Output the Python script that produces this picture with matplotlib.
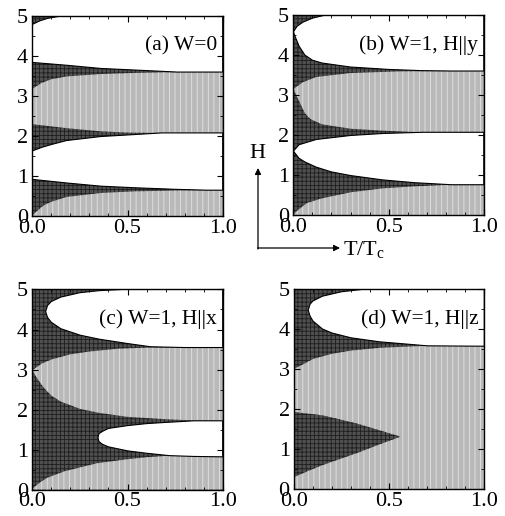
import matplotlib
matplotlib.use("Agg")
import matplotlib.pyplot as plt
from matplotlib.ticker import MultipleLocator

plt.rcParams['font.family'] = ['Liberation Serif', 'DejaVu Serif']
plt.rcParams['hatch.linewidth'] = 0.6

# phase boundaries: (T/Tc, H) pairs
# (a) W=0
A_W1_HI_T = [0, 0.04, 0.08, 0.15, 1.0]
A_W1_HI_H = [4.79, 4.88, 4.94, 5.0, 5.0]
A_W1_LO_T = [0, 0.18, 0.36, 0.54, 0.76, 1.0]
A_W1_LO_H = [3.84, 3.77, 3.69, 3.65, 3.6, 3.6]
A_L1_HI_T = [0, 0.05, 0.1, 0.18, 0.36, 0.55, 0.76, 1.0]
A_L1_HI_H = [3.18, 3.33, 3.42, 3.49, 3.55, 3.58, 3.6, 3.6]
A_L1_LO_T = [0, 0.18, 0.36, 0.5, 0.68, 1.0]
A_L1_LO_H = [2.3, 2.2, 2.12, 2.09, 2.08, 2.08]
A_W2_HI_T = [0, 0.05, 0.1, 0.18, 0.36, 0.54, 0.68, 1.0]
A_W2_HI_H = [1.63, 1.72, 1.79, 1.89, 1.99, 2.04, 2.08, 2.08]
A_W2_LO_T = [0, 0.18, 0.36, 0.54, 0.76, 0.92, 1.0]
A_W2_LO_H = [0.92, 0.83, 0.75, 0.71, 0.67, 0.65, 0.65]
A_L2_HI_T = [0, 0.03, 0.06, 0.1, 0.18, 0.36, 0.54, 0.76, 0.92, 1.0]
A_L2_HI_H = [0.02, 0.15, 0.27, 0.36, 0.48, 0.58, 0.62, 0.64, 0.65, 0.65]

# (b) W=1, H||y
B_W1_HI_T = [0, 0.02, 0.05, 0.1, 0.17, 1.0]
B_W1_HI_H = [4.58, 4.72, 4.82, 4.92, 5.0, 5.0]
B_W1_LO_T = [0, 0.01, 0.03, 0.06, 0.1, 0.15, 0.3, 0.5, 0.67, 0.83, 1.0]
B_W1_LO_H = [4.58, 4.45, 4.22, 4.0, 3.87, 3.8, 3.7, 3.64, 3.61, 3.6, 3.6]
B_L1_HI_T = [0, 0.05, 0.12, 0.3, 0.56, 0.83, 1.0]
B_L1_HI_H = [3.15, 3.32, 3.45, 3.55, 3.59, 3.6, 3.6]
B_L1_LO_T = [0, 0.02, 0.04, 0.06, 0.09, 0.15, 0.3, 0.47, 0.68, 1.0]
B_L1_LO_H = [3.15, 2.95, 2.75, 2.55, 2.4, 2.27, 2.16, 2.11, 2.07, 2.07]
B_W2_HI_T = [0, 0.03, 0.12, 0.3, 0.47, 0.68, 1.0]
B_W2_HI_H = [1.6, 1.76, 1.89, 1.99, 2.04, 2.07, 2.07]
B_W2_LO_T = [0, 0.03, 0.06, 0.12, 0.2, 0.3, 0.47, 0.64, 0.83, 1.0]
B_W2_LO_H = [1.6, 1.42, 1.33, 1.2, 1.08, 0.99, 0.88, 0.81, 0.76, 0.76]
B_L2_HI_T = [0, 0.03, 0.07, 0.15, 0.3, 0.47, 0.64, 0.83, 1.0]
B_L2_HI_H = [0.02, 0.15, 0.3, 0.42, 0.57, 0.67, 0.72, 0.76, 0.76]

# (c) W=1, H||x
C_W1_HI_T = [0.07, 0.08, 0.1, 0.15, 0.25, 0.35, 0.47, 1.0]
C_W1_HI_H = [4.45, 4.6, 4.7, 4.81, 4.92, 4.97, 5.0, 5.0]
C_W1_LO_T = [0.07, 0.08, 0.1, 0.15, 0.25, 0.35, 0.5, 0.62, 0.8, 1.0]
C_W1_LO_H = [4.45, 4.3, 4.18, 4.02, 3.86, 3.76, 3.65, 3.57, 3.55, 3.55]
C_L1_HI_T = [0, 0.05, 0.1, 0.2, 0.3, 0.45, 0.62, 1.0]
C_L1_HI_H = [2.98, 3.15, 3.25, 3.38, 3.45, 3.52, 3.55, 3.55]
C_L1_LO_T = [0, 0.03, 0.06, 0.1, 0.15, 0.25, 0.35, 0.5, 0.7, 0.85, 1.0]
C_L1_LO_H = [2.98, 2.75, 2.55, 2.35, 2.2, 2.02, 1.92, 1.82, 1.76, 1.73, 1.72]
C_W2_HI_T = [0.345, 0.35, 0.37, 0.4, 0.5, 0.6, 0.7, 0.85, 1.0]
C_W2_HI_H = [1.3, 1.4, 1.46, 1.53, 1.6, 1.65, 1.68, 1.72, 1.72]
C_W2_LO_T = [0.345, 0.35, 0.37, 0.4, 0.5, 0.6, 0.72, 0.85, 1.0]
C_W2_LO_H = [1.3, 1.2, 1.13, 1.07, 0.97, 0.91, 0.85, 0.83, 0.82]
C_L2_HI_T = [0, 0.04, 0.08, 0.17, 0.34, 0.5, 0.6, 0.72, 1.0]
C_L2_HI_H = [0.02, 0.18, 0.3, 0.46, 0.66, 0.76, 0.81, 0.85, 0.82]

# (d) W=1, H||z
D_W1_HI_T = [0.075, 0.085, 0.1, 0.15, 0.25, 0.38, 1.0]
D_W1_HI_H = [4.47, 4.62, 4.7, 4.82, 4.93, 5.0, 5.0]
D_W1_LO_T = [0.075, 0.085, 0.1, 0.15, 0.2, 0.3, 0.45, 0.6, 0.7, 1.0]
D_W1_LO_H = [4.47, 4.32, 4.2, 4.0, 3.9, 3.78, 3.68, 3.62, 3.58, 3.57]
D_L_HI_T = [0, 0.05, 0.1, 0.2, 0.3, 0.45, 0.7, 1.0]
D_L_HI_H = [3.0, 3.12, 3.25, 3.38, 3.46, 3.53, 3.58, 3.57]
D_DK_HI_T = [0, 0.155, 0.33, 0.45, 0.56]
D_DK_HI_H = [1.93, 1.84, 1.64, 1.47, 1.31]
D_DK_LO_T = [0, 0.067, 0.155, 0.33, 0.45, 0.56]
D_DK_LO_H = [0.3, 0.44, 0.61, 0.9, 1.12, 1.31]

LABELS = ['(a) W=0', '(b) W=1, H||y', '(c) W=1, H||x', '(d) W=1, H||z']

DARK = dict(facecolor='#505050', edgecolor='#1e1e1e', hatch='++++', linewidth=0)
LIGHT = dict(facecolor='#b9b9b9', edgecolor='#e4e4e4', hatch='|||', linewidth=0)
WHITE = dict(facecolor='white', edgecolor='black', linewidth=0.8)


def band(t_hi, h_hi, t_lo, h_lo):
    # polygon: upper curve left->right, lower curve right->left
    return list(t_hi) + list(t_lo)[::-1], list(h_hi) + list(h_lo)[::-1]


def below(t, h):
    return [t[0]] + list(t) + [t[-1]], [0] + list(h) + [0]


fig = plt.figure(figsize=(5.05, 5.16), dpi=100)
W, Hh = 0.377, 0.388
pos = [(0.064, 0.581), (0.581, 0.583), (0.064, 0.051), (0.582, 0.052)]
axes = [fig.add_axes([x, y, W, Hh]) for x, y in pos]

panels = [
    dict(light=[band(A_L1_HI_T, A_L1_HI_H, A_L1_LO_T, A_L1_LO_H), below(A_L2_HI_T, A_L2_HI_H)],
         white=[band(A_W1_HI_T, A_W1_HI_H, A_W1_LO_T, A_W1_LO_H), band(A_W2_HI_T, A_W2_HI_H, A_W2_LO_T, A_W2_LO_H)],
         dark=[]),
    dict(light=[band(B_L1_HI_T, B_L1_HI_H, B_L1_LO_T, B_L1_LO_H), below(B_L2_HI_T, B_L2_HI_H)],
         white=[band(B_W1_HI_T, B_W1_HI_H, B_W1_LO_T, B_W1_LO_H), band(B_W2_HI_T, B_W2_HI_H, B_W2_LO_T, B_W2_LO_H)],
         dark=[]),
    dict(light=[band(C_L1_HI_T, C_L1_HI_H, C_L1_LO_T, C_L1_LO_H), below(C_L2_HI_T, C_L2_HI_H)],
         white=[band(C_W1_HI_T, C_W1_HI_H, C_W1_LO_T, C_W1_LO_H), band(C_W2_HI_T, C_W2_HI_H, C_W2_LO_T, C_W2_LO_H)],
         dark=[]),
    dict(light=[below(D_L_HI_T, D_L_HI_H)],
         white=[band(D_W1_HI_T, D_W1_HI_H, D_W1_LO_T, D_W1_LO_H)],
         dark=[band(D_DK_HI_T, D_DK_HI_H, D_DK_LO_T, D_DK_LO_H)]),
]

for ax, p, lab in zip(axes, panels, LABELS):
    ax.fill([0, 1, 1, 0], [0, 0, 5, 5], **DARK)
    for x, y in p['light']:
        ax.fill(x, y, **LIGHT)
    for x, y in p['dark']:
        ax.fill(x, y, **DARK)
    for x, y in p['white']:
        ax.fill(x, y, **WHITE)
    ax.set_xlim(0, 1)
    ax.set_ylim(0, 5)
    ax.set_xticks([0, 0.5, 1.0])
    ax.set_xticklabels(['0.0', '0.5', '1.0'])
    ax.set_yticks([0, 1, 2, 3, 4, 5])
    ax.xaxis.set_minor_locator(MultipleLocator(0.1))
    ax.yaxis.set_minor_locator(MultipleLocator(0.5))
    ax.tick_params(which='both', direction='in', top=True, right=True, labelsize=16)
    ax.tick_params(which='major', length=4, width=0.8)
    ax.tick_params(which='minor', length=2, width=0.6)
    ax.tick_params(axis='x', pad=2)
    ax.tick_params(axis='y', pad=3)
    for s in ax.spines.values():
        s.set_linewidth(1.0)
    ax.text(0.97, 4.25, lab, ha='right', va='center', fontsize=15.5, zorder=5)

# axis key between the panels
ax0 = fig.add_axes([0, 0, 1, 1], facecolor='none')
ax0.set_axis_off()
ax0.set_xlim(0, 505)
ax0.set_ylim(516, 0)
ax0.annotate('', xy=(258, 168), xytext=(258, 249),
             arrowprops=dict(arrowstyle='-|>', lw=0.9, color='black', mutation_scale=9, shrinkA=0, shrinkB=0))
ax0.annotate('', xy=(340, 248), xytext=(257.5, 248),
             arrowprops=dict(arrowstyle='-|>', lw=0.9, color='black', mutation_scale=9, shrinkA=0, shrinkB=0))
ax0.text(257, 153, 'H', ha='center', va='center', fontsize=16)
ax0.text(343, 250, r'T/T$_\mathregular{c}$', ha='left', va='center', fontsize=16)

fig.savefig('out.png', dpi=100)
